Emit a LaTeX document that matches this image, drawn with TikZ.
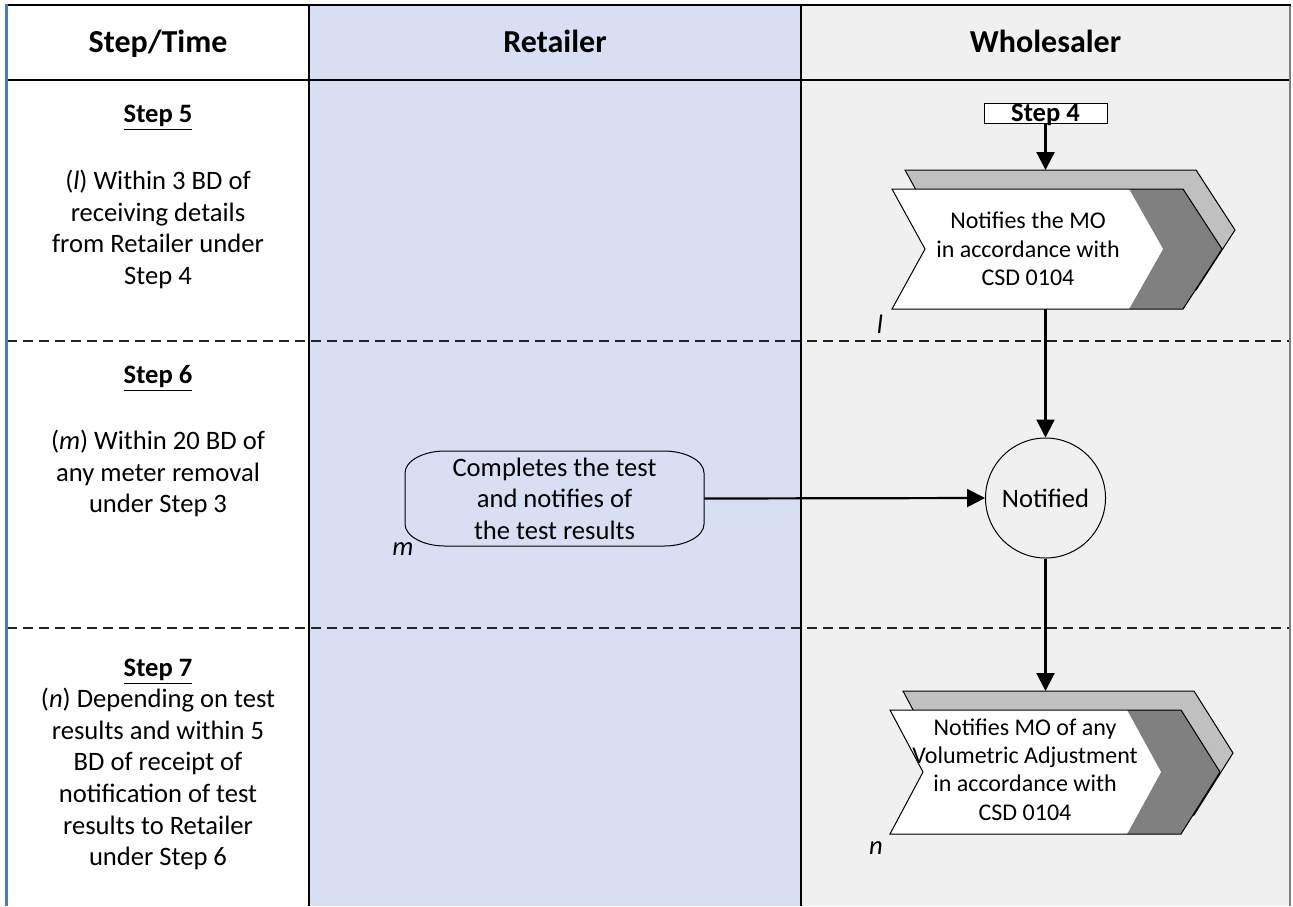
\documentclass[tikz,border=0pt]{standalone}
\usepackage{fontspec}
\setmainfont{Carlito}
\usetikzlibrary{arrows.meta}

\definecolor{retailbg}{HTML}{D9DFF2}
\definecolor{wholebg}{HTML}{F0F0F0}
\definecolor{frameblue}{HTML}{4A7EBB}
\definecolor{chevlight}{HTML}{C0C0C0}
\definecolor{chevdark}{HTML}{808080}
\definecolor{rulegray}{HTML}{222222}

% 3-D chevron: #1,#2 = top-left corner of the front face, #3 = half height
\newcommand\drawchevron[3]{%
  \begin{scope}[shift={(#1,#2)}]
    \filldraw[chevrear] (13,-19) -- (304,-19) -- (343,#3-19) -- (304,2*#3-19)
      -- (13,2*#3-19) -- (46,#3-19) -- cycle;
    \fill[chevdark] (0,0) -- (291,0) -- (330,#3) -- (291,2*#3) -- (0,2*#3) -- (33,#3) -- cycle;
    \fill[white] (0,0) -- (237,0) -- (271,#3) -- (237,2*#3) -- (0,2*#3) -- (33,#3) -- cycle;
    \draw[shapeline] (0,0) -- (291,0) -- (330,#3) -- (291,2*#3) -- (0,2*#3) -- (33,#3) -- cycle;
  \end{scope}}

\begin{document}
\begin{tikzpicture}[x=0.5pt,y=-0.5pt,
  shapeline/.style={draw=black, line width=0.5pt},
  chevrear/.style={fill=chevlight, draw=black, line width=0.5pt},
  body/.style={font=\fontsize{13.3}{15.8}\selectfont, align=center, inner sep=0pt},
  head/.style={font=\fontsize{16}{19}\selectfont\bfseries, inner sep=0pt, anchor=base},
  steplabel/.style={font=\fontsize{13.3}{15.8}\selectfont\bfseries, inner sep=0pt, anchor=base},
  chevtext/.style={font=\fontsize{12}{14.2}\selectfont, align=center, inner sep=0pt},
  tag/.style={font=\fontsize{13.3}{15.8}\selectfont\itshape, inner sep=0pt, anchor=base},
  flow/.style={line width=1.1pt, -{Triangle[length=9pt,width=9pt]}},
  lanesplit/.style={draw=rulegray, line width=0.6pt, dash pattern=on 5pt off 3pt},
]
\useasboundingbox (0,0) rectangle (1293,906);

% lanes
\fill[white] (0,0) rectangle (1293,906);
\fill[retailbg] (309,5) rectangle (801,906);
\fill[wholebg] (801,5) rectangle (1290,906);

% table rules
\draw[black, line width=0.9pt] (7,80) -- (1290,80);
\draw[lanesplit] (7,341) -- (1290,341);
\draw[lanesplit] (7,628) -- (1290,628);
\draw[black, line width=1.1pt] (309,5) -- (309,906);
\draw[black, line width=1.1pt] (801,5) -- (801,906);
\draw[gray, line width=0.8pt] (1290,5) -- (1290,906);
\draw[black, line width=1.1pt] (6,5) -- (1291,5);
\draw[frameblue, line width=1.6pt] (6.5,4) -- (6.5,906);

% column headings
\node[head] (hstep) at (158,52) {Step/Time};
\node[head] (hret) at (555,52) {Retailer};
\node[head] (hwho) at (1045.5,52) {Wholesaler};

% step / time column
\node[steplabel] (s5) at (158,122) {\underline{Step 5}};
\node[body] (s5txt) at (158,229.5) {(\textit{l}) Within 3 BD of\\receiving details\\from Retailer under\\Step 4};
\node[steplabel] (s6) at (158,383) {\underline{Step 6}};
\node[body] (s6txt) at (158,473.5) {(\textit{m}) Within 20 BD of\\any meter removal\\under Step 3};
\node[steplabel] (s7) at (158,676) {\underline{Step 7}};
\node[body] (s7txt) at (158,779) {(\textit{n}) Depending on test\\results and within 5\\BD of receipt of\\notification of test\\results to Retailer\\under Step 6};

% wholesaler: step 4 reference
\node[shapeline, fill=white, minimum width=61.5pt, minimum height=10pt, inner sep=0pt,
      text height=8pt, text depth=0pt, font=\fontsize{13.3}{15.8}\selectfont\bfseries]
      (s4) at (1045.5,113) {Step 4};

% chevron l
\drawchevron{892}{189}{60}
\coordinate (chevAin) at (1045.5,170);
\coordinate (chevAout) at (1045.5,309);
\node[chevtext] (chevA) at (1028,249) {Notifies the MO\\in accordance with\\CSD 0104};
\node[tag] (tagl) at (880,333) {l};

% notified event
\node[shapeline, circle, minimum size=60pt, inner sep=0pt,
      font=\fontsize{13.3}{15.8}\selectfont] (notified) at (1045.5,498) {Notified};

% retailer process
\node[body, minimum width=149.5pt, minimum height=47.5pt] (proc) at (554.5,498.5)
  {Completes the test\\and notifies of\\the test results};
\draw[shapeline] (445,451) -- (664,451) .. controls (686,451) and (704,461) .. (704,473)
  -- (704,524) .. controls (704,536) and (686,546) .. (664,546)
  -- (445,546) .. controls (423,546) and (405,536) .. (405,524)
  -- (405,473) .. controls (405,461) and (423,451) .. (445,451) -- cycle;
\node[tag] (tagm) at (403,555) {m};

% chevron n
\drawchevron{890}{710}{62}
\coordinate (chevBin) at (1045.5,691);
\node[chevtext] (chevB) at (1025,769.5) {Notifies MO of any\\Volumetric Adjustment\\in accordance with\\CSD 0104};
\node[tag] (tagn) at (876,854) {n};

% connectors
\draw[flow] (s4.south) -- (chevAin);
\draw[flow] (chevAout) -- (notified.north);
\draw[flow] (proc.east) -- (notified.west);
\draw[flow] (notified.south) -- (chevBin);
\end{tikzpicture}
\end{document}
